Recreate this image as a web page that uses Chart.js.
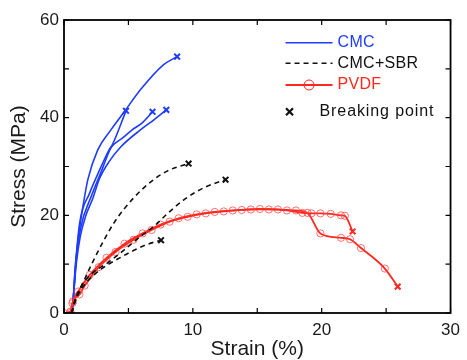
<!DOCTYPE html>
<html>
<head>
<meta charset="utf-8">
<script src="https://cdn.jsdelivr.net/npm/chart.js@4/dist/chart.umd.min.js"></script>
<style>
  html, body { margin: 0; padding: 0; background: #fff; }
  canvas { display: block; }
</style>
</head>
<body>
<canvas id="stressChart" width="467" height="360"></canvas>
<script>
// Ticks
const xTickLabels = [0, 10, 20, 30];
const yTickLabels = [0, 20, 40, 60];

// CMC samples (strain %, stress MPa)
const cmcStrain1 = [0.6, 0.7, 0.84, 1.09, 1.47, 1.85, 2.62, 3.64, 4.73, 5.93, 7.71, 8.78];
const cmcStress1 = [0, 1.5, 8.3, 15, 21.8, 27.3, 33.4, 37.5, 41.4, 45.7, 50.8, 52.5];
const cmcStrain2 = [0.6, 0.72, 0.9, 1.22, 1.98, 2.75, 3.5, 3.76, 4.81];
const cmcStress2 = [0, 3, 10, 18.5, 24.5, 29.2, 33.4, 34.5, 41.4];
const cmcStrain3 = [0.6, 0.75, 0.95, 1.3, 2.1, 2.9, 3.6, 3.9, 4.53, 5.29, 6.05, 6.87];
const cmcStress3 = [0, 4, 11, 17.5, 23.8, 29, 33.6, 34.6, 35.8, 37.5, 38.9, 41.2];
const cmcStrain4 = [0.6, 0.75, 0.95, 1.25, 1.7, 2.24, 2.75, 3.5, 4.4, 5.93, 7.0, 7.94];
const cmcStress4 = [0, 4, 10, 15.5, 20, 23.5, 27.5, 31, 34, 37.5, 39.6, 41.6];

// CMC+SBR samples
const sbrStrain1 = [0.6, 0.84, 1.6, 2.6, 3.89, 5.42, 6.95, 8.2, 9.67];
const sbrStress1 = [0, 2.2, 6.9, 12.4, 18.5, 23.6, 27.3, 29.3, 30.6];
const sbrStrain2 = [0.6, 0.9, 1.73, 3.51, 4.8, 5.8, 7.0, 8.09, 9.37, 10.89, 12.54];
const sbrStress2 = [0, 3, 6.9, 10.5, 13.2, 15.4, 17.8, 20.5, 23.3, 25.7, 27.3];
const sbrStrain3 = [0.6, 0.8, 1.35, 2.6, 4.4, 6.41, 7.53];
const sbrStress3 = [0, 2, 4.9, 8.4, 11.4, 14.0, 14.9];

// PVDF samples
const pvdfStrain1 = [0, 0.5, 0.7, 1.1, 2.0, 3.3, 4.7, 6.1, 7.5, 8.9, 10.3, 11.7, 13.1, 14.5, 15.9, 17.3, 18.5, 19.2, 19.9, 20.7, 21.5, 21.8, 22.4];
const pvdfStress1 = [0, 0.3, 2.4, 4.4, 7.8, 11.3, 14.2, 16.3, 18.1, 19.4, 20.2, 20.7, 21.0, 21.2, 21.2, 21.0, 20.5, 20.4, 20.4, 20.3, 20.0, 19.9, 16.7];
const pvdfStrain2 = [0.5, 0.65, 1.2, 1.6, 2.7, 4.0, 5.4, 6.8, 8.2, 9.6, 11.0, 12.4, 13.8, 15.2, 16.6, 18.0, 18.9, 19.9, 21.5, 22.2, 23.05, 24.9, 25.9];
const pvdfStress2 = [0, 2, 3.8, 5.6, 9.4, 12.5, 15.0, 17.0, 18.7, 19.7, 20.4, 20.8, 21.1, 21.3, 21.2, 21.0, 20.5, 16.3, 15.4, 15.1, 13.3, 9.1, 5.4];

const BLUE = 'rgb(30, 60, 255)';
const BLACK = '#111';
const RED = 'rgb(255, 40, 30)';
const RED_LIGHT = 'rgba(255, 70, 70, 0.85)';
const FONT = '"Liberation Sans", Arial, sans-serif';

function pairs(xs, ys) {
    return xs.map((x, i) => ({ x: x, y: ys[i] }));
}

function isLast(ctx) {
    return ctx.dataIndex === ctx.dataset.data.length - 1;
}

function plainCurve(xs, ys, color, dashed) {
    return {
        data: pairs(xs, ys),
        showLine: true,
        borderColor: color,
        borderWidth: 1.6,
        borderDash: dashed ? [5, 4] : [],
        cubicInterpolationMode: 'monotone',
        pointStyle: 'crossRot',
        pointRadius: ctx => isLast(ctx) ? 4 : 0,
        pointBorderColor: color,
        pointBorderWidth: 2,
        pointBackgroundColor: 'transparent'
    };
}

function pvdfCurve(xs, ys) {
    return {
        data: pairs(xs, ys),
        showLine: true,
        borderColor: RED,
        borderWidth: 1.8,
        cubicInterpolationMode: 'monotone',
        pointStyle: ctx => isLast(ctx) ? 'crossRot' : 'circle',
        pointRadius: ctx => isLast(ctx) ? 4 : 3.6,
        pointBorderColor: ctx => isLast(ctx) ? RED : RED_LIGHT,
        pointBorderWidth: ctx => isLast(ctx) ? 2 : 0.9,
        pointBackgroundColor: 'transparent'
    };
}

// frame + inward ticks on all four sides
const framePlugin = {
    id: 'frame',
    afterDatasetsDraw(chart) {
        const { ctx, chartArea: a, scales } = chart;
        ctx.save();
        ctx.strokeStyle = '#000';
        ctx.lineWidth = 1.8;
        ctx.strokeRect(a.left, a.top, a.right - a.left, a.bottom - a.top);
        ctx.lineWidth = 1.2;
        const len = 5;
        scales.x.ticks.forEach(t => {
            const px = scales.x.getPixelForValue(t.value);
            ctx.beginPath();
            ctx.moveTo(px, a.bottom); ctx.lineTo(px, a.bottom - len);
            ctx.moveTo(px, a.top); ctx.lineTo(px, a.top + len);
            ctx.stroke();
        });
        scales.y.ticks.forEach(t => {
            const py = scales.y.getPixelForValue(t.value);
            ctx.beginPath();
            ctx.moveTo(a.left, py); ctx.lineTo(a.left + len, py);
            ctx.moveTo(a.right, py); ctx.lineTo(a.right - len, py);
            ctx.stroke();
        });
        ctx.restore();
    }
};

// legend inside plot, top right
const legendPlugin = {
    id: 'insideLegend',
    afterDraw(chart) {
        const { ctx, chartArea: a } = chart;
        const x0 = a.right - 165, x1 = a.right - 118, tx = a.right - 113;
        ctx.save();
        ctx.font = '16px ' + FONT;
        ctx.letterSpacing = '0.3px';
        ctx.textBaseline = 'middle';

        // CMC
        let y = a.top + 22.7;
        ctx.strokeStyle = BLUE; ctx.lineWidth = 1.6;
        ctx.beginPath(); ctx.moveTo(x0, y); ctx.lineTo(x1, y); ctx.stroke();
        ctx.fillStyle = BLUE; ctx.fillText('CMC', tx, y);

        // CMC+SBR
        y = a.top + 43.3;
        ctx.strokeStyle = BLACK; ctx.setLineDash([5, 4]);
        ctx.beginPath(); ctx.moveTo(x0, y); ctx.lineTo(x1, y); ctx.stroke();
        ctx.setLineDash([]);
        ctx.fillStyle = BLACK; ctx.fillText('CMC+SBR', tx, y);

        // PVDF
        y = a.top + 65;
        ctx.strokeStyle = RED; ctx.lineWidth = 1.8;
        ctx.beginPath(); ctx.moveTo(x0, y); ctx.lineTo(x1, y); ctx.stroke();
        ctx.lineWidth = 1;
        ctx.beginPath(); ctx.arc((x0 + x1) / 2, y, 5, 0, Math.PI * 2); ctx.stroke();
        ctx.fillStyle = RED; ctx.fillText('PVDF', tx, y);

        // Breaking point
        y = a.top + 91.7;
        const mx = a.right - 161, r = 3.5;
        ctx.strokeStyle = BLACK; ctx.lineWidth = 2.2;
        ctx.beginPath();
        ctx.moveTo(mx - r, y - r); ctx.lineTo(mx + r, y + r);
        ctx.moveTo(mx + r, y - r); ctx.lineTo(mx - r, y + r);
        ctx.stroke();
        ctx.letterSpacing = '0.9px';
        ctx.fillStyle = BLACK; ctx.fillText('Breaking point', a.right - 131, y);
        ctx.restore();
    }
};

const tickFont = { family: FONT, size: 17 };
const titleFont = { family: FONT, size: 21, lineHeight: 1 };

new Chart(document.getElementById('stressChart').getContext('2d'), {
    type: 'scatter',
    data: {
        datasets: [
            plainCurve(sbrStrain1, sbrStress1, BLACK, true),
            plainCurve(sbrStrain2, sbrStress2, BLACK, true),
            plainCurve(sbrStrain3, sbrStress3, BLACK, true),
            pvdfCurve(pvdfStrain1, pvdfStress1),
            pvdfCurve(pvdfStrain2, pvdfStress2),
            plainCurve(cmcStrain1, cmcStress1, BLUE, false),
            plainCurve(cmcStrain2, cmcStress2, BLUE, false),
            plainCurve(cmcStrain3, cmcStress3, BLUE, false),
            plainCurve(cmcStrain4, cmcStress4, BLUE, false)
        ]
    },
    options: {
        responsive: false,
        animation: false,
        devicePixelRatio: 1,
        layout: { padding: { top: 20, right: 10, left: 0, bottom: 0 } },
        plugins: {
            legend: { display: false },
            tooltip: { enabled: false }
        },
        scales: {
            x: {
                type: 'linear',
                min: 0,
                max: 30,
                afterFit: scale => { scale.height = 47; },
                grid: { display: false, drawTicks: false },
                border: { display: false },
                ticks: {
                    stepSize: 5,
                    padding: 7,
                    color: '#1a1a1a',
                    font: tickFont,
                    callback: v => xTickLabels.includes(v) ? String(v) : ''
                },
                title: { display: true, text: 'Strain (%)', color: '#1a1a1a', font: titleFont, padding: 0 }
            },
            y: {
                type: 'linear',
                min: 0,
                max: 60,
                afterFit: scale => { scale.width = 64; },
                grid: { display: false, drawTicks: false },
                border: { display: false },
                ticks: {
                    stepSize: 10,
                    padding: 5,
                    color: '#1a1a1a',
                    font: tickFont,
                    callback: v => yTickLabels.includes(v) ? String(v) : ''
                },
                title: { display: true, text: 'Stress (MPa)', color: '#1a1a1a', font: titleFont, padding: { top: 9, bottom: 0 } }
            }
        }
    },
    plugins: [framePlugin, legendPlugin]
});
</script>
</body>
</html>
